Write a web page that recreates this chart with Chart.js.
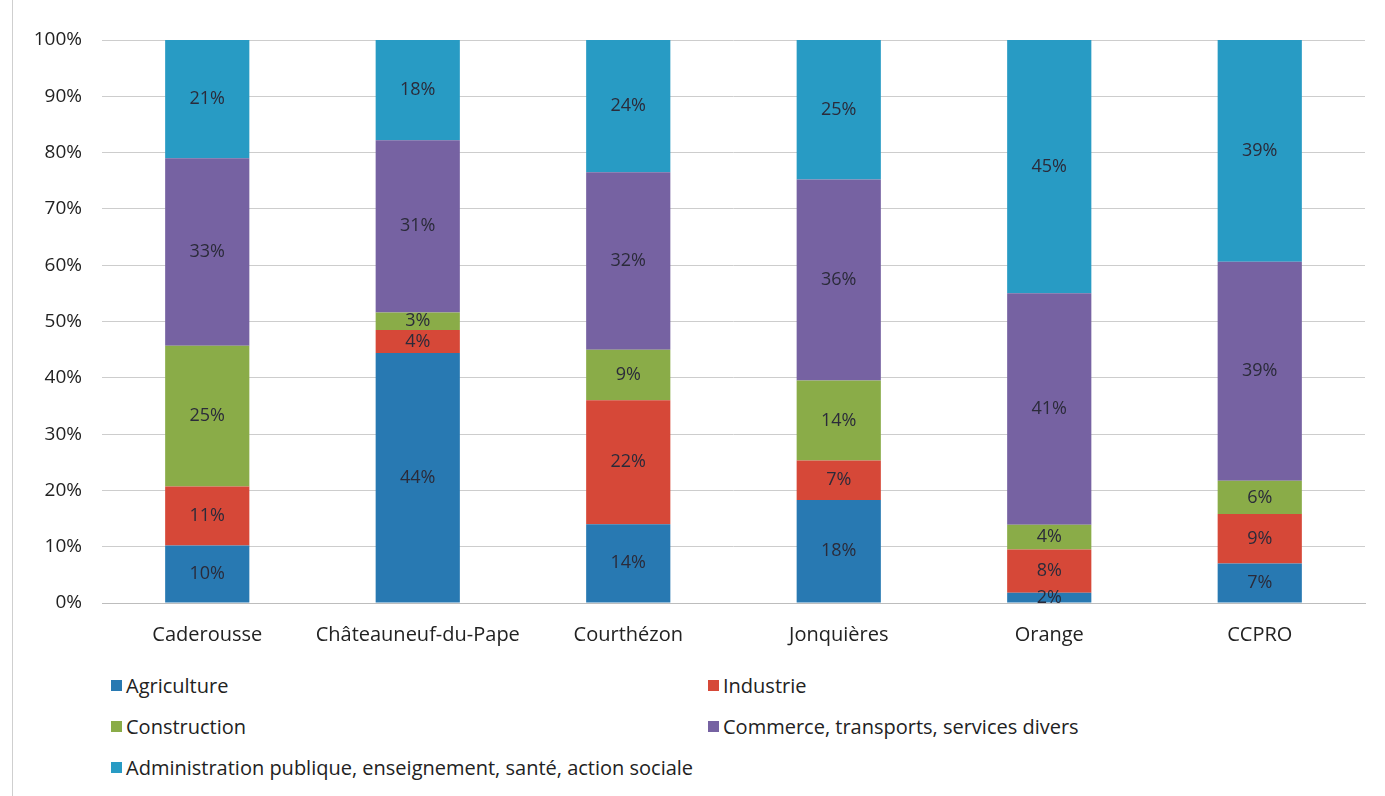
<!DOCTYPE html>
<html>
<head>
<meta charset="utf-8">
<script src="https://cdn.jsdelivr.net/npm/chart.js@4.4.1/dist/chart.umd.min.js"></script>
<style>
  body { margin: 0; background: #fff; font-family: "Open Sans", sans-serif; }
  .frame { position: relative; width: 1385px; height: 796px; overflow: hidden; }
  .frame::before { content: ""; position: absolute; left: 12px; top: 0; bottom: 0; border-left: 1px solid #cfcfcf; }
  .wrap { position: absolute; left: 0; top: 0; width: 1385px; height: 660px; }
  .legend { position: absolute; left: 111px; top: 671px; width: 1200px; display: grid; grid-template-columns: 597px 500px; row-gap: 13px; }
  .legend div { display: flex; align-items: center; font-size: 20px; color: #222; height: 28px; white-space: nowrap; }
  .legend span { display: inline-block; width: 11px; height: 11px; margin-right: 4px; }
</style>
</head>
<body>
<div class="frame">
  <div class="wrap"><canvas id="barChart"></canvas></div>
  <div class="legend" id="legend"></div>
</div>
<script>
const communes = ["Caderousse", "Châteauneuf-du-Pape", "Courthézon", "Jonquières", "Orange", "CCPRO"];
const agriculture = [10.2, 44.4, 14, 18.3, 1.8, 7];
const industrie = [10.5, 4.1, 22, 7, 7.7, 8.8];
const construction = [25, 3.1, 9, 14.2, 4.4, 5.9];
const commerce = [33.3, 30.6, 31.5, 35.7, 41.1, 38.9];
const administration = [21, 17.8, 23.5, 24.8, 45, 39.4];
const yTicks = [0, 10, 20, 30, 40, 50, 60, 70, 80, 90, 100];

const series = [
    { label: "Agriculture", data: agriculture, color: "rgb(40, 121, 178)" },
    { label: "Industrie", data: industrie, color: "rgb(214, 72, 56)" },
    { label: "Construction", data: construction, color: "rgb(138, 172, 72)" },
    { label: "Commerce, transports, services divers", data: commerce, color: "rgb(118, 98, 162)" },
    { label: "Administration publique, enseignement, santé, action sociale", data: administration, color: "rgb(40, 155, 196)" }
];

// labels printed in the middle of each segment
const segmentLabels = {
    id: "segmentLabels",
    afterDatasetsDraw(chart) {
        const ctx = chart.ctx;
        ctx.save();
        ctx.font = "18px 'Open Sans', sans-serif";
        ctx.fillStyle = "#2b2b3a";
        ctx.textAlign = "center";
        ctx.textBaseline = "middle";
        chart.data.datasets.forEach((ds, i) => {
            chart.getDatasetMeta(i).data.forEach((bar, j) => {
                const y = (bar.y + bar.base) / 2;
                ctx.fillText(Math.round(ds.data[j]) + "%", bar.x, y);
            });
        });
        ctx.restore();
    }
};

const ctx = document.getElementById("barChart");
const barChart = new Chart(ctx, {
    type: "bar",
    data: {
        labels: communes,
        datasets: series.map(s => ({
            label: s.label,
            data: s.data,
            backgroundColor: s.color,
            borderWidth: 0,
            barPercentage: 0.4,
            categoryPercentage: 1
        }))
    },
    options: {
        responsive: true,
        maintainAspectRatio: false,
        animation: false,
        layout: { padding: { top: 40, right: 20, left: 0, bottom: 0 } },
        plugins: { legend: { display: false }, tooltip: { enabled: false } },
        scales: {
            x: {
                stacked: true,
                grid: { display: false },
                border: { color: "#bdbdbd" },
                ticks: { color: "#222", font: { size: 20, family: "Open Sans" }, padding: 12 },
                afterFit: scale => { scale.height = 57; }
            },
            y: {
                stacked: true,
                min: 0,
                max: 100,
                afterBuildTicks: scale => { scale.ticks = yTicks.map(v => ({ value: v })); },
                grid: { color: "#cdcdcd", drawTicks: false },
                border: { display: false },
                ticks: {
                    color: "#222",
                    font: { size: 19, family: "Open Sans" },
                    padding: 20,
                    callback: v => v + "%"
                },
                afterFit: scale => { scale.width = 102; }
            }
        }
    },
    plugins: [segmentLabels]
});

const legend = document.getElementById("legend");
series.forEach(s => {
    const item = document.createElement("div");
    item.innerHTML = '<span style="background:' + s.color + '"></span>' + s.label;
    legend.appendChild(item);
});
</script>
</body>
</html>
